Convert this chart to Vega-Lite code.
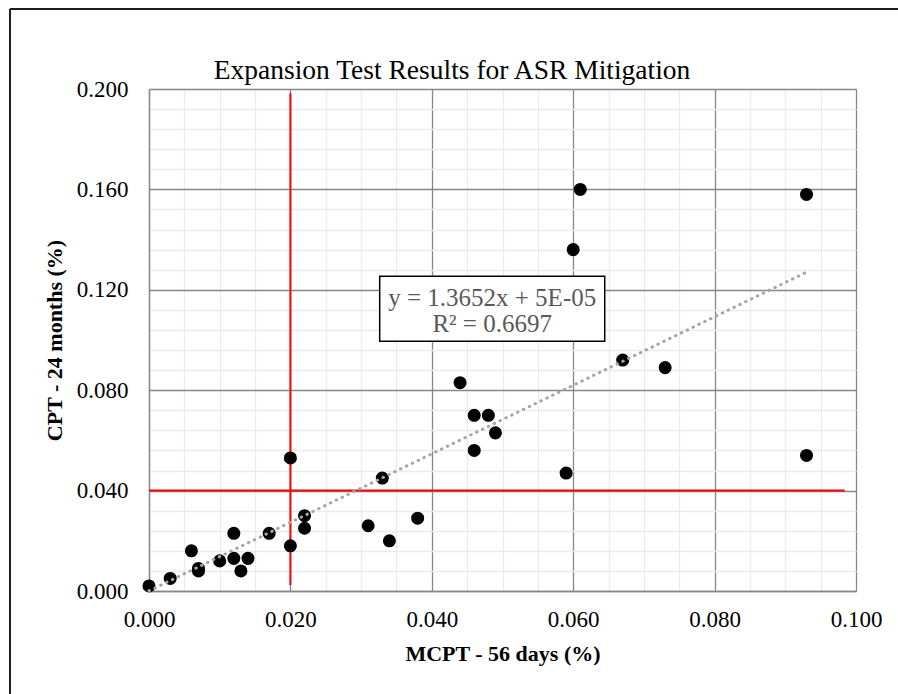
{
  "$schema": "https://vega.github.io/schema/vega-lite/v6.json",
  "width": 707,
  "height": 502,
  "autosize": {"type": "none"},
  "padding": {"left": 149, "top": 89, "right": 42, "bottom": 103},
  "background": "white",
  "config": {"view": {"stroke": null}, "axis": {"labelOverlap": false, "labelFlush": false, "labelBound": false}},
  "datasets": {
    "points": [
      {"mcpt": 0.000, "cpt": 0.002},
      {"mcpt": 0.003, "cpt": 0.005},
      {"mcpt": 0.006, "cpt": 0.016},
      {"mcpt": 0.007, "cpt": 0.009},
      {"mcpt": 0.007, "cpt": 0.008},
      {"mcpt": 0.010, "cpt": 0.012},
      {"mcpt": 0.012, "cpt": 0.023},
      {"mcpt": 0.012, "cpt": 0.013},
      {"mcpt": 0.013, "cpt": 0.008},
      {"mcpt": 0.014, "cpt": 0.013},
      {"mcpt": 0.017, "cpt": 0.023},
      {"mcpt": 0.020, "cpt": 0.053},
      {"mcpt": 0.020, "cpt": 0.018},
      {"mcpt": 0.022, "cpt": 0.030},
      {"mcpt": 0.022, "cpt": 0.025},
      {"mcpt": 0.031, "cpt": 0.026},
      {"mcpt": 0.033, "cpt": 0.045},
      {"mcpt": 0.034, "cpt": 0.020},
      {"mcpt": 0.038, "cpt": 0.029},
      {"mcpt": 0.044, "cpt": 0.083},
      {"mcpt": 0.046, "cpt": 0.070},
      {"mcpt": 0.048, "cpt": 0.070},
      {"mcpt": 0.049, "cpt": 0.063},
      {"mcpt": 0.046, "cpt": 0.056},
      {"mcpt": 0.059, "cpt": 0.047},
      {"mcpt": 0.060, "cpt": 0.136},
      {"mcpt": 0.061, "cpt": 0.160},
      {"mcpt": 0.067, "cpt": 0.092},
      {"mcpt": 0.073, "cpt": 0.089},
      {"mcpt": 0.093, "cpt": 0.158},
      {"mcpt": 0.093, "cpt": 0.054}
    ],
    "trend": [
      {"mcpt": 0.0, "cpt": 0.00005},
      {"mcpt": 0.093, "cpt": 0.12701}
    ],
    "label": [
      {"line": "y = 1.3652x + 5E-05", "ly": 0.1168},
      {"line": "R² = 0.6697", "ly": 0.1062}
    ],
    "title": [
      {"text": "Expansion Test Results for ASR Mitigation"}
    ]
  },
  "layer": [
    {
      "data": {"values": [{}]},
      "mark": {"type": "rule", "color": "#ff0000", "strokeWidth": 2},
      "encoding": {
        "x": {"datum": 0.02, "type": "quantitative", "title": "MCPT - 56 days (%)", "scale": {"domain": [0, 0.1], "nice": false, "zero": false}},
        "y": {"datum": 0.0024, "type": "quantitative", "title": "CPT - 24 months (%)", "scale": {"domain": [0, 0.2], "nice": false, "zero": false}},
        "y2": {"datum": 0.1983}
      }
    },
    {
      "data": {"values": [{}]},
      "mark": {"type": "rule", "color": "#ff0000", "strokeWidth": 2},
      "encoding": {
        "x": {"datum": 0, "type": "quantitative", "title": "MCPT - 56 days (%)"},
        "x2": {"datum": 0.0984},
        "y": {"datum": 0.04, "type": "quantitative", "title": "CPT - 24 months (%)"}
      }
    },
    {
      "data": {"name": "points"},
      "mark": {"type": "circle", "color": "#000000", "opacity": 1, "size": 170},
      "encoding": {
        "x": {
          "field": "mcpt", "type": "quantitative",
          "title": "MCPT - 56 days (%)",
          "axis": {
            "values": [0, 0.005, 0.01, 0.015, 0.02, 0.025, 0.03, 0.035, 0.04, 0.045, 0.05, 0.055, 0.06, 0.065, 0.07, 0.075, 0.08, 0.085, 0.09, 0.095, 0.1],
            "tickCount": 200,
            "grid": true,
            "gridColor": {"condition": {"test": "indexof(['0.000','0.020','0.040','0.060','0.080','0.100'], format(datum.value, '.3f')) >= 0", "value": "#878787"}, "value": "#ebebeb"},
            "gridWidth": 1.3,
            "labelExpr": "indexof(['0.000','0.020','0.040','0.060','0.080','0.100'], format(datum.value, '.3f')) >= 0 ? format(datum.value, '.3f') : ''",
            "labelOverlap": false,
            "labelFlush": false,
            "labelBound": false,
            "labelFont": "Liberation Serif",
            "labelFontSize": 23,
            "labelColor": "#000000",
            "labelPadding": 17,
            "ticks": false,
            "domainColor": "#878787",
            "domainWidth": 1.3,
            "titleFont": "Liberation Serif",
            "titleFontSize": 22,
            "titleFontWeight": "bold",
            "titleColor": "#000000",
            "titlePadding": 12
          }
        },
        "y": {
          "field": "cpt", "type": "quantitative",
          "title": "CPT - 24 months (%)",
          "axis": {
            "values": [0, 0.008, 0.016, 0.024, 0.032, 0.04, 0.048, 0.056, 0.064, 0.072, 0.08, 0.088, 0.096, 0.104, 0.112, 0.12, 0.128, 0.136, 0.144, 0.152, 0.16, 0.168, 0.176, 0.184, 0.192, 0.2],
            "tickCount": 200,
            "grid": true,
            "gridColor": {"condition": {"test": "indexof(['0.000','0.040','0.080','0.120','0.160','0.200'], format(datum.value, '.3f')) >= 0", "value": "#878787"}, "value": "#ebebeb"},
            "gridWidth": 1.3,
            "labelExpr": "indexof(['0.000','0.040','0.080','0.120','0.160','0.200'], format(datum.value, '.3f')) >= 0 ? format(datum.value, '.3f') : ''",
            "labelOverlap": false,
            "labelFlush": false,
            "labelBound": false,
            "labelFont": "Liberation Serif",
            "labelFontSize": 23,
            "labelColor": "#000000",
            "labelPadding": 21,
            "ticks": false,
            "domainColor": "#878787",
            "domainWidth": 1.3,
            "titleFont": "Liberation Serif",
            "titleFontSize": 22,
            "titleFontWeight": "bold",
            "titleColor": "#000000",
            "titlePadding": 10
          }
        }
      }
    },
    {
      "data": {"name": "trend"},
      "mark": {"type": "line", "color": "#a6a6a6", "strokeWidth": 3, "strokeCap": "round", "strokeDash": [0.5, 6]},
      "encoding": {
        "x": {"field": "mcpt", "type": "quantitative", "title": "MCPT - 56 days (%)"},
        "y": {"field": "cpt", "type": "quantitative", "title": "CPT - 24 months (%)"}
      }
    },
    {
      "data": {"values": [{}]},
      "mark": {"type": "rect", "fill": "#ffffff", "stroke": "#000000", "strokeWidth": 1.5},
      "encoding": {
        "x": {"datum": 0.03263, "type": "quantitative", "title": "MCPT - 56 days (%)"},
        "x2": {"datum": 0.06446},
        "y": {"datum": 0.0995, "type": "quantitative", "title": "CPT - 24 months (%)"},
        "y2": {"datum": 0.1254}
      }
    },
    {
      "data": {"name": "label"},
      "mark": {"type": "text", "font": "Liberation Serif", "fontSize": 25, "color": "#595959", "align": "center", "baseline": "middle"},
      "encoding": {
        "x": {"datum": 0.04854, "type": "quantitative", "title": "MCPT - 56 days (%)"},
        "y": {"field": "ly", "type": "quantitative", "title": "CPT - 24 months (%)"},
        "text": {"field": "line"}
      }
    },
    {
      "data": {"name": "title"},
      "mark": {"type": "text", "font": "Liberation Serif", "fontSize": 27.5, "color": "#000000", "align": "center", "baseline": "alphabetic"},
      "encoding": {
        "x": {"datum": 0.04286, "type": "quantitative", "title": "MCPT - 56 days (%)"},
        "y": {"datum": 0.20398, "type": "quantitative", "title": "CPT - 24 months (%)"},
        "text": {"field": "text"}
      }
    },
    {
      "data": {"values": [{}]},
      "mark": {"type": "rule", "color": "#1f1f1f", "strokeWidth": 2},
      "encoding": {
        "x": {"datum": -0.01966, "type": "quantitative", "title": "MCPT - 56 days (%)"},
        "y": {"datum": 0.2319, "type": "quantitative", "title": "CPT - 24 months (%)"},
        "y2": {"datum": -0.06}
      }
    },
    {
      "data": {"values": [{}]},
      "mark": {"type": "rule", "color": "#1f1f1f", "strokeWidth": 2},
      "encoding": {
        "x": {"datum": -0.01966, "type": "quantitative", "title": "MCPT - 56 days (%)"},
        "x2": {"datum": 0.12},
        "y": {"datum": 0.2319, "type": "quantitative", "title": "CPT - 24 months (%)"}
      }
    }
  ]
}
